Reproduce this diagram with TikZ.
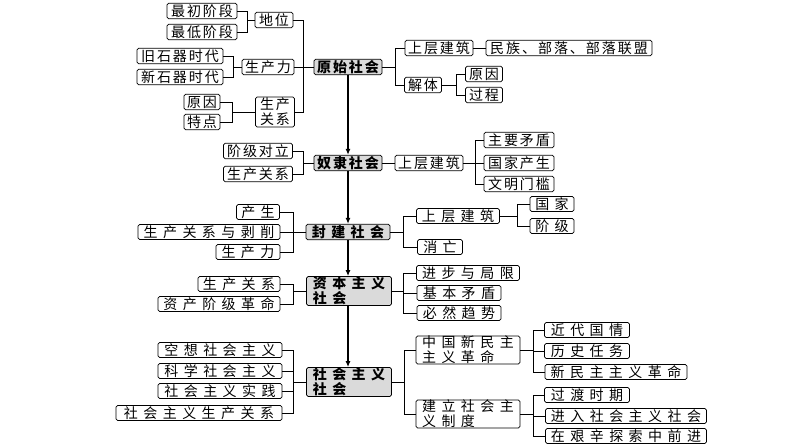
\documentclass[tikz,border=0pt]{standalone}
\usepackage{fontspec}
\setmainfont{Noto Sans CJK SC}
\usetikzlibrary{arrows.meta}
\definecolor{mainfill}{RGB}{218,218,218}
\newcommand{\ta}[1]{{\addfontfeature{LetterSpace=14}#1\hspace{-2pt}}}
\newcommand{\tb}[1]{{\addfontfeature{LetterSpace=39}#1\hspace{-5.5pt}}}
\tikzset{
  box/.style={draw=black, line width=0.8pt, rounded corners=1.6pt, fill=white,
    inner sep=0pt, minimum height=15.5pt, font=\fontsize{14}{15}\selectfont},
  mainbox/.style={box, fill=mainfill, font=\fontsize{14}{15}\selectfont\bfseries},
  conn/.style={draw=black, line width=0.9pt},
  mainarrow/.style={draw=black, line width=1.3pt, -{Latex[length=6pt,width=5pt]}}
}
\begin{document}
\begin{tikzpicture}[x=1pt,y=-1pt]
\useasboundingbox[fill=white] (0,0) rectangle (794,447);

% ---------- primitive society ----------
\node[mainbox, minimum width=68pt] (p) at (348,67) {\ta{原始社会}};
\node[box, minimum width=38pt] (p1) at (274,20) {\ta{地位}};
\node[box, minimum width=70pt] (p11) at (202,11) {\ta{最初阶段}};
\node[box, minimum width=70pt] (p12) at (202,32) {\ta{最低阶段}};
\node[box, minimum width=52pt] (p2) at (268,67) {\ta{生产力}};
\node[box, minimum width=86pt] (p21) at (180,56) {\ta{旧石器时代}};
\node[box, minimum width=86pt] (p22) at (180,77) {\ta{新石器时代}};
\node[box, minimum width=39pt, minimum height=30pt, align=center] (p3) at (275,112) {\ta{生产}\\\ta{关系}};
\node[box, minimum width=36pt] (p31) at (202,102) {\ta{原因}};
\node[box, minimum width=36pt] (p32) at (202,122) {\ta{特点}};
\node[box, minimum width=68pt] (p4) at (439,48) {\ta{上层建筑}};
\node[box, minimum width=166pt] (p41) at (569,48) {\ta{民族、部落、部落联盟}};
\node[box, minimum width=37pt] (p5) at (423,85) {\ta{解体}};
\node[box, minimum width=37pt] (p51) at (484,74) {\ta{原因}};
\node[box, minimum width=37pt] (p52) at (484,95) {\ta{过程}};

% ---------- slave society ----------
\node[mainbox, minimum width=68pt] (s) at (348,163) {\ta{奴隶社会}};
\node[box, minimum width=69pt] (s1) at (258,151) {\ta{阶级对立}};
\node[box, minimum width=69pt] (s2) at (258,174) {\ta{生产关系}};
\node[box, minimum width=68pt] (s3) at (429,163) {\ta{上层建筑}};
\node[box, minimum width=70pt] (s31) at (519,140) {\ta{主要矛盾}};
\node[box, minimum width=70pt] (s32) at (519,163) {\ta{国家产生}};
\node[box, minimum width=70pt] (s33) at (519,184) {\ta{文明门槛}};

% ---------- feudal society ----------
\node[mainbox, minimum width=84pt] (f) at (348,232) {\tb{封建社会}};
\node[box, minimum width=43pt, minimum height=15pt] (f1) at (258,212) {\tb{产生}};
\node[box, minimum width=142pt, minimum height=15pt] (f2) at (209,232) {\tb{生产关系与剥削}};
\node[box, minimum width=64pt, minimum height=15pt] (f3) at (248,252) {\tb{生产力}};
\node[box, minimum width=83pt, minimum height=15pt] (f4) at (458,216) {\tb{上层建筑}};
\node[box, minimum width=44pt, minimum height=15pt] (f41) at (552,204) {\tb{国家}};
\node[box, minimum width=44pt, minimum height=15pt] (f42) at (552,226) {\tb{阶级}};
\node[box, minimum width=45pt, minimum height=15pt] (f5) at (440,247) {\tb{消亡}};

% ---------- capitalist society ----------
\node[mainbox, minimum width=85pt, minimum height=29pt, align=left] (c) at (349,291) {\tb{资本主义}\\\tb{社会}};
\node[box, minimum width=82pt, minimum height=15pt] (c1) at (239,284) {\tb{生产关系}};
\node[box, minimum width=122pt, minimum height=15pt] (c2) at (219,304) {\tb{资产阶级革命}};
\node[box, minimum width=103pt, minimum height=15pt] (c3) at (468,273) {\tb{进步与局限}};
\node[box, minimum width=84pt, minimum height=15pt] (c4) at (459,293) {\tb{基本矛盾}};
\node[box, minimum width=84pt, minimum height=15pt] (c5) at (459,313) {\tb{必然趋势}};

% ---------- socialist society ----------
\node[mainbox, minimum width=85pt, minimum height=29pt, align=left] (z) at (349,382) {\tb{社会主义}\\\tb{社会}};
\node[box, minimum width=124pt, minimum height=15pt] (z1) at (220,350) {\tb{空想社会主义}};
\node[box, minimum width=124pt, minimum height=15pt] (z2) at (220,371) {\tb{科学社会主义}};
\node[box, minimum width=124pt, minimum height=15pt] (z3) at (220,391) {\tb{社会主义实践}};
\node[box, minimum width=166pt, minimum height=15pt] (z4) at (199,413) {\tb{社会主义生产关系}};
\node[box, minimum width=104pt, minimum height=28pt, align=left] (z5) at (468,350) {\tb{中国新民主}\\\tb{主义革命}};
\node[box, minimum width=85pt, minimum height=15pt] (z51) at (587,330) {\tb{近代国情}};
\node[box, minimum width=85pt, minimum height=15pt] (z52) at (587,351) {\tb{历史任务}};
\node[box, minimum width=142pt, minimum height=15pt] (z53) at (616,372) {\tb{新民主主义革命}};
\node[box, minimum width=104pt, minimum height=28pt, align=left] (z6) at (468,414) {\tb{建立社会主}\\\tb{义制度}};
\node[box, minimum width=85pt, minimum height=15pt] (z61) at (587,395) {\tb{过渡时期}};
\node[box, minimum width=161pt, minimum height=15pt] (z62) at (626,416) {\tb{进入社会主义社会}};
\node[box, minimum width=161pt, minimum height=15pt] (z63) at (626,436) {\tb{在艰辛探索中前进}};

% ---------- bus coordinates ----------
\coordinate (bP) at (303,0);
\coordinate (b1) at (247,0);
\coordinate (b2) at (233,0);
\coordinate (b3) at (232,0);
\coordinate (bQ) at (395,0);
\coordinate (b5) at (456,0);
\coordinate (bS) at (303,0);
\coordinate (bS3) at (475,0);
\coordinate (bF) at (293,0);
\coordinate (bFR) at (403,0);
\coordinate (bF4) at (517,0);
\coordinate (bC) at (293,0);
\coordinate (bCR) at (403,0);
\coordinate (bZ) at (293,0);
\coordinate (bZR) at (404,0);
\coordinate (bZ5) at (533,0);

% ---------- connectors: primitive ----------
\draw[conn] (p1.east) -- (p1.east -| bP) -- (p3.east -| bP) -- (p3.east);
\draw[conn] (p2.east) -- (p.west);
\draw[conn] (p11.east) -- (p11.east -| b1) -- (p12.east -| b1) -- (p12.east);
\draw[conn] (b1 |- p1.west) -- (p1.west);
\draw[conn] (p21.east) -- (p21.east -| b2) -- (p22.east -| b2) -- (p22.east);
\draw[conn] (b2 |- p2.west) -- (p2.west);
\draw[conn] (p31.east) -- (p31.east -| b3) -- (p32.east -| b3) -- (p32.east);
\draw[conn] (b3 |- p3.west) -- (p3.west);
\draw[conn] (p.east) -- (p.east -| bQ);
\draw[conn] (p4.west) -- (p4.west -| bQ) -- (p5.west -| bQ) -- (p5.west);
\draw[conn] (p4.east) -- (p41.west);
\draw[conn] (p5.east) -- (p5.east -| b5);
\draw[conn] (p51.west) -- (p51.west -| b5) -- (p52.west -| b5) -- (p52.west);

% ---------- connectors: slave ----------
\draw[conn] (s1.east) -- (s1.east -| bS) -- (s2.east -| bS) -- (s2.east);
\draw[conn] (bS |- s.west) -- (s.west);
\draw[conn] (s.east) -- (s3.west);
\draw[conn] (s3.east) -- (s32.west);
\draw[conn] (s31.west) -- (s31.west -| bS3) -- (s33.west -| bS3) -- (s33.west);

% ---------- connectors: feudal ----------
\draw[conn] (f1.east) -- (f1.east -| bF) -- (f3.east -| bF) -- (f3.east);
\draw[conn] (f2.east) -- (f.west);
\draw[conn] (f.east) -- (f.east -| bFR);
\draw[conn] (f4.west) -- (f4.west -| bFR) -- (f5.west -| bFR) -- (f5.west);
\draw[conn] (f4.east) -- (f4.east -| bF4);
\draw[conn] (f41.west) -- (f41.west -| bF4) -- (f42.west -| bF4) -- (f42.west);

% ---------- connectors: capitalist ----------
\draw[conn] (c1.east) -- (c1.east -| bC) -- (c2.east -| bC) -- (c2.east);
\draw[conn] (bC |- c.west) -- (c.west);
\draw[conn] (c.east) -- (c.east -| bCR);
\draw[conn] (c3.west) -- (c3.west -| bCR) -- (c5.west -| bCR) -- (c5.west);
\draw[conn] (c4.west) -- (c4.west -| bCR);

% ---------- connectors: socialist ----------
\draw[conn] (z1.east) -- (z1.east -| bZ) -- (z4.east -| bZ) -- (z4.east);
\draw[conn] (z2.east) -- (z2.east -| bZ);
\draw[conn] (z3.east) -- (z3.east -| bZ);
\draw[conn] (bZ |- z.west) -- (z.west);
\draw[conn] (z.east) -- (z.east -| bZR);
\draw[conn] (z5.west) -- (z5.west -| bZR) -- (z6.west -| bZR) -- (z6.west);
\draw[conn] (z5.east) -- (z5.east -| bZ5);
\draw[conn] (z51.west) -- (z51.west -| bZ5) -- (z53.west -| bZ5) -- (z53.west);
\draw[conn] (z52.west) -- (z52.west -| bZ5);
\draw[conn] (z6.east) -- (z6.east -| bZ5);
\draw[conn] (z61.west) -- (z61.west -| bZ5) -- (z63.west -| bZ5) -- (z63.west);
\draw[conn] (z62.west) -- (z62.west -| bZ5);

% ---------- main chain ----------
\draw[mainarrow] (p.south) -- (p.south |- s.north);
\draw[mainarrow] (s.south) -- (s.south |- f.north);
\draw[mainarrow] (f.south) -- (f.south |- c.north);
\draw[mainarrow] (f.south |- c.south) -- (f.south |- z.north);
\end{tikzpicture}
\end{document}
